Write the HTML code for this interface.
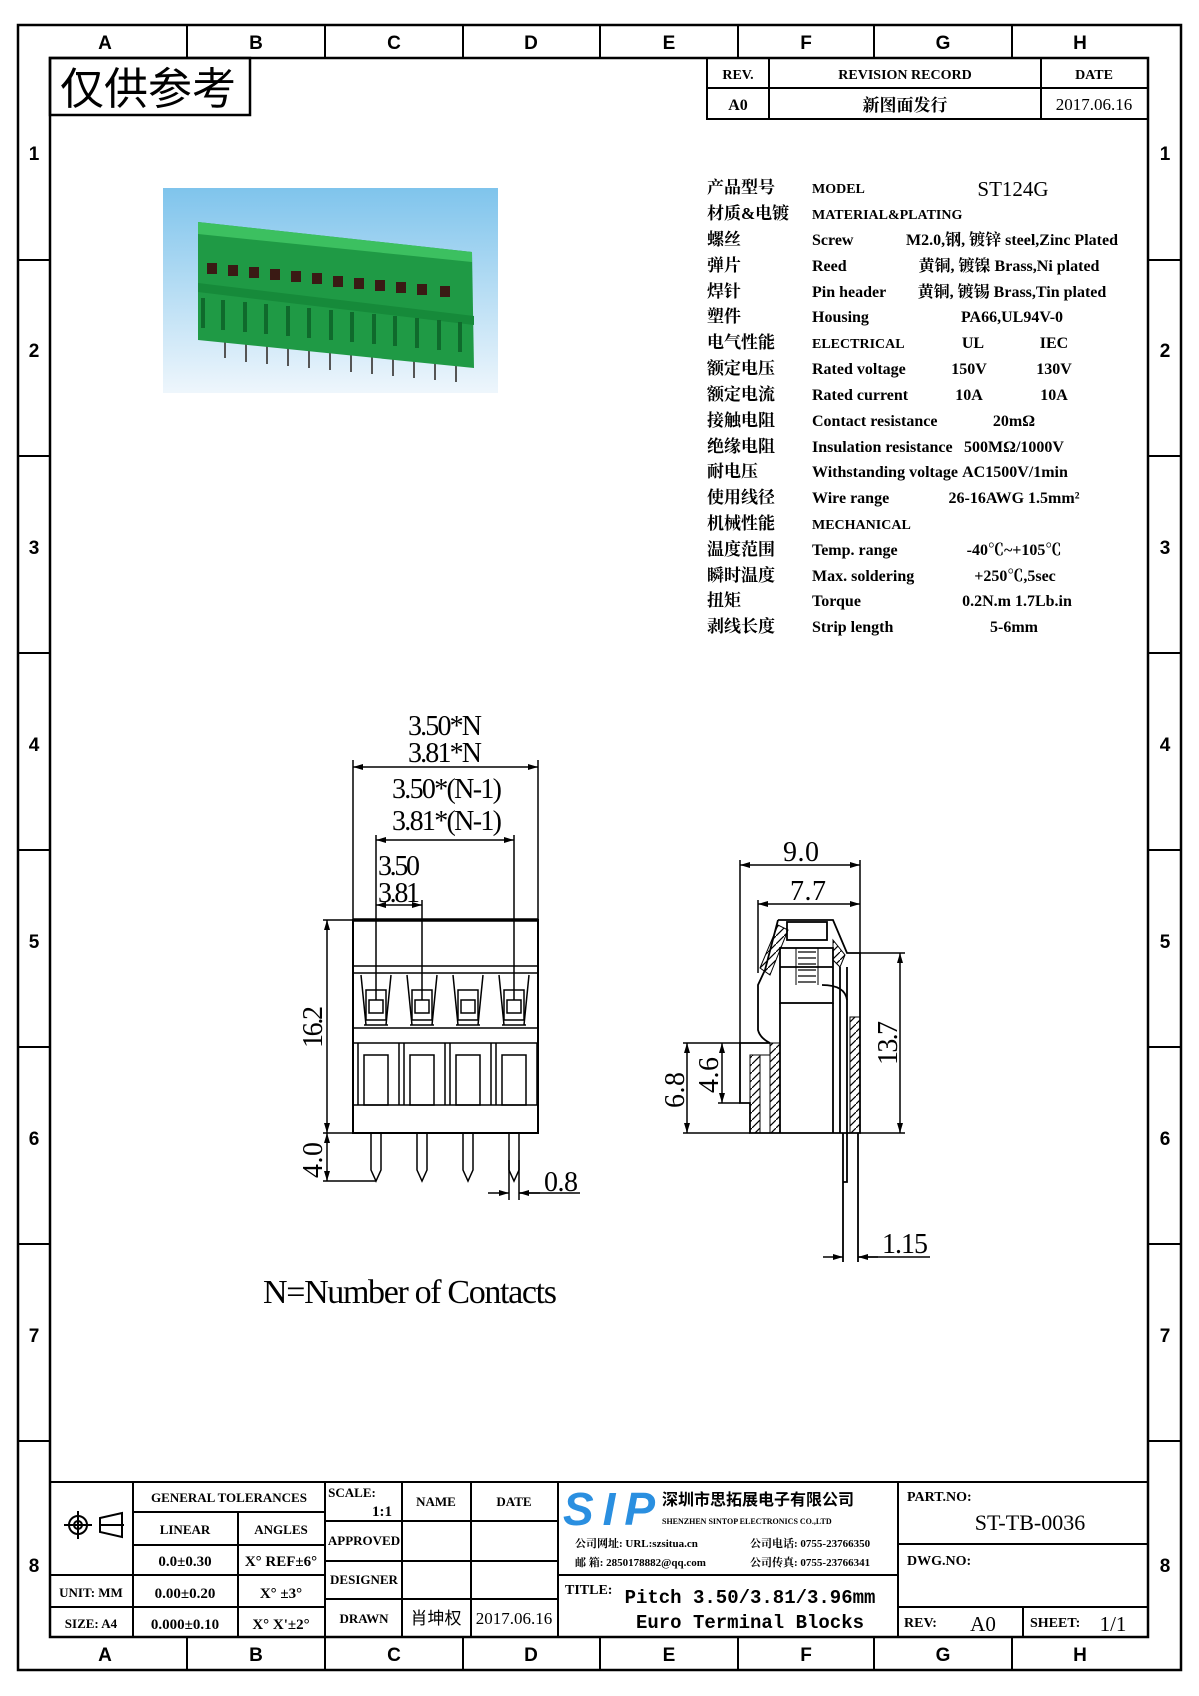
<!DOCTYPE html>
<html><head><meta charset="utf-8"><style>
html,body{margin:0;padding:0;background:#fff}
svg{display:block}
text{font-family:"Liberation Serif","Noto Serif CJK SC","Noto Sans CJK SC",serif;fill:#000}
.s{font-family:"Liberation Sans","Noto Sans CJK SC",sans-serif;font-weight:bold}
.m{font-family:"Liberation Mono","Noto Sans CJK SC",monospace;font-weight:bold}
</style></head><body>
<svg width="1199" height="1696" viewBox="0 0 1199 1696" xmlns="http://www.w3.org/2000/svg">
<defs>
<marker id="a" viewBox="0 0 10 6" refX="10" refY="3" markerWidth="10" markerHeight="6" orient="auto-start-reverse" markerUnits="userSpaceOnUse"><path d="M0 0L10 3L0 6z" fill="#000"/></marker>
<pattern id="h" width="8" height="8" patternUnits="userSpaceOnUse"><path d="M0 8L8 0" stroke="#000" stroke-width="1.2"/></pattern>
<linearGradient id="bg" x1="0" y1="0" x2="0" y2="1"><stop offset="0" stop-color="#7fc4ec"/><stop offset="1" stop-color="#eef6fc"/></linearGradient>
</defs>
<g fill="none" stroke="#000" stroke-width="2.5">
<rect x="18" y="25" width="1163" height="1645"/>
<rect x="50" y="58" width="1098" height="1579"/>
</g>
<g stroke="#000" stroke-width="2">
<path d="M187 25V58M325 25V58M463 25V58M600 25V58M738 25V58M874 25V58M1012 25V58"/>
<path d="M187 1637V1670M325 1637V1670M463 1637V1670M600 1637V1670M738 1637V1670M874 1637V1670M1012 1637V1670"/>
<path d="M18 260H50M18 456H50M18 653H50M18 850H50M18 1047H50M18 1244H50M18 1441H50"/>
<path d="M1148 260H1181M1148 456H1181M1148 653H1181M1148 850H1181M1148 1047H1181M1148 1244H1181M1148 1441H1181"/>
</g>
<g class="s" font-size="19" text-anchor="middle">
<text class="s" x="105" y="49">A</text><text class="s" x="256" y="49">B</text><text class="s" x="394" y="49">C</text><text class="s" x="531" y="49">D</text><text class="s" x="669" y="49">E</text><text class="s" x="806" y="49">F</text><text class="s" x="943" y="49">G</text><text class="s" x="1080" y="49">H</text>
<text class="s" x="105" y="1661">A</text><text class="s" x="256" y="1661">B</text><text class="s" x="394" y="1661">C</text><text class="s" x="531" y="1661">D</text><text class="s" x="669" y="1661">E</text><text class="s" x="806" y="1661">F</text><text class="s" x="943" y="1661">G</text><text class="s" x="1080" y="1661">H</text>
<text class="s" x="34" y="160">1</text><text class="s" x="34" y="357">2</text><text class="s" x="34" y="554">3</text><text class="s" x="34" y="751">4</text><text class="s" x="34" y="948">5</text><text class="s" x="34" y="1145">6</text><text class="s" x="34" y="1342">7</text><text class="s" x="34" y="1572">8</text>
<text class="s" x="1165" y="160">1</text><text class="s" x="1165" y="357">2</text><text class="s" x="1165" y="554">3</text><text class="s" x="1165" y="751">4</text><text class="s" x="1165" y="948">5</text><text class="s" x="1165" y="1145">6</text><text class="s" x="1165" y="1342">7</text><text class="s" x="1165" y="1572">8</text>
</g>
<rect x="50" y="58" width="200" height="57" fill="none" stroke="#000" stroke-width="2.5"/>
<text x="60" y="104" font-size="44" style="font-family:'Noto Sans CJK SC',sans-serif">仅供参考</text>
<g fill="none" stroke="#000" stroke-width="2"><rect x="707" y="58" width="441" height="61"/><path d="M707 88H1148M769 58V119M1041 58V119"/></g>
<g font-size="14" text-anchor="middle" font-weight="bold">
<text x="738" y="79">REV.</text><text x="905" y="79">REVISION RECORD</text><text x="1094" y="79">DATE</text>
<text x="738" y="110" font-size="16">A0</text><text x="905" y="111" font-size="17">新图面发行</text><text x="1094" y="110" font-size="17" font-weight="normal">2017.06.16</text>
</g>
<g font-size="16" font-weight="bold">
<g style="font-family:'Noto Sans CJK SC',sans-serif" font-size="17">
<text x="707" y="193">产品型号</text><text x="707" y="219">材质&amp;电镀</text><text x="707" y="245">螺丝</text><text x="707" y="271">弹片</text><text x="707" y="297">焊针</text><text x="707" y="322">塑件</text><text x="707" y="348">电气性能</text><text x="707" y="374">额定电压</text><text x="707" y="400">额定电流</text><text x="707" y="426">接触电阻</text><text x="707" y="452">绝缘电阻</text><text x="707" y="477">耐电压</text><text x="707" y="503">使用线径</text><text x="707" y="529">机械性能</text><text x="707" y="555">温度范围</text><text x="707" y="581">瞬时温度</text><text x="707" y="606">扭矩</text><text x="707" y="632">剥线长度</text>
</g>
<g font-size="16">
<text x="812" y="193" font-size="14">MODEL</text><text x="812" y="219" font-size="14">MATERIAL&amp;PLATING</text><text x="812" y="245">Screw</text><text x="812" y="271">Reed</text><text x="812" y="297">Pin header</text><text x="812" y="322">Housing</text><text x="812" y="348" font-size="14">ELECTRICAL</text><text x="812" y="374">Rated voltage</text><text x="812" y="400">Rated current</text><text x="812" y="426">Contact resistance</text><text x="812" y="452">Insulation resistance</text><text x="812" y="477">Withstanding voltage</text><text x="812" y="503">Wire range</text><text x="812" y="529" font-size="14">MECHANICAL</text><text x="812" y="555">Temp. range</text><text x="812" y="581">Max. soldering</text><text x="812" y="606">Torque</text><text x="812" y="632">Strip length</text>
</g>
<g text-anchor="middle" font-size="16">
<text x="1013" y="196" font-size="21" font-weight="normal">ST124G</text>
<text x="1012" y="245">M2.0,钢, 镀锌 steel,Zinc Plated</text>
<text x="1009" y="271">黄铜, 镀镍 Brass,Ni plated</text>
<text x="1012" y="297">黄铜, 镀锡 Brass,Tin plated</text>
<text x="1012" y="322">PA66,UL94V-0</text>
<text x="973" y="348">UL</text><text x="1054" y="348">IEC</text>
<text x="969" y="374">150V</text><text x="1054" y="374">130V</text>
<text x="969" y="400">10A</text><text x="1054" y="400">10A</text>
<text x="1014" y="426">20mΩ</text><text x="1014" y="452">500MΩ/1000V</text><text x="1015" y="477">AC1500V/1min</text><text x="1014" y="503">26-16AWG 1.5mm²</text>
<text x="1014" y="555">-40℃~+105℃</text><text x="1015" y="581">+250℃,5sec</text><text x="1017" y="606">0.2N.m  1.7Lb.in</text><text x="1014" y="632">5-6mm</text>
</g>
</g>
<rect x="163" y="188" width="335" height="205" fill="url(#bg)"/>
<g stroke="#555" stroke-width="2"><path d="M225 330v28M246 332v30M267 334v30M288 336v30M309 338v30M330 340v30M351 342v30M372 344v30M393 346v30M414 348v30M435 350v30M456 352v30"/></g>
<path d="M198 222L472 252L474 368L198 340Z" fill="#1f9a45"/>
<path d="M198 222L472 252L472 262L198 234Z" fill="#3cc060"/>
<path d="M198 283L474 316L474 325L198 292Z" fill="#168a3a"/>
<g fill="#3a1a14">
<rect x="207" y="263" width="10" height="11"/><rect x="228" y="265" width="10" height="11"/><rect x="249" y="267" width="10" height="11"/><rect x="270" y="269" width="10" height="11"/><rect x="291" y="271" width="10" height="11"/><rect x="312" y="273" width="10" height="11"/><rect x="333" y="276" width="10" height="11"/><rect x="354" y="278" width="10" height="11"/><rect x="375" y="280" width="10" height="11"/><rect x="396" y="282" width="10" height="11"/><rect x="417" y="284" width="10" height="11"/><rect x="440" y="286" width="10" height="11"/>
</g>
<g fill="#0f6a2c"><rect x="201" y="298" width="4" height="30"/><rect x="221" y="300" width="4" height="30"/><rect x="243" y="302" width="4" height="30"/><rect x="264" y="304" width="4" height="30"/><rect x="286" y="306" width="4" height="30"/><rect x="307" y="308" width="4" height="30"/><rect x="329" y="310" width="4" height="30"/><rect x="350" y="312" width="4" height="30"/><rect x="372" y="314" width="4" height="30"/><rect x="393" y="316" width="4" height="30"/><rect x="415" y="318" width="4" height="30"/><rect x="437" y="320" width="4" height="30"/><rect x="458" y="322" width="4" height="30"/></g>
<g fill="none" stroke="#000" stroke-width="2">
<rect x="353" y="920" width="185" height="213"/>
<path d="M353 966H538M353 973H538M353 1028H538M353 1043H538M353 1105H538" stroke-width="1.5"/>
<path d="M353 920H538" stroke-width="3.5"/>
</g>
<g fill="none" stroke="#000" stroke-width="1.5">
<g id="sw"><path d="M361 975L366 1025M391 975L386 1025"/><rect x="366" y="990" width="20" height="30"/><rect x="369" y="1000" width="14" height="13"/><path d="M364 1025H388"/></g>
<use href="#sw" x="46"/><use href="#sw" x="92"/><use href="#sw" x="138"/>
<g id="lw"><rect x="364" y="1055" width="24" height="50"/><path d="M358 1043V1105M399 1043V1105"/></g>
<use href="#lw" x="46"/><use href="#lw" x="92"/><use href="#lw" x="138"/>
<g id="pn"><path d="M371 1133V1170L376 1181L381 1170V1133"/></g>
<use href="#pn" x="46"/><use href="#pn" x="92"/><use href="#pn" x="138"/>
</g>
<g stroke="#000" stroke-width="1.5" fill="none">
<path d="M353 920V760M538 920V760"/>
<path d="M353 767H538" marker-start="url(#a)" marker-end="url(#a)"/>
<path d="M376 1000V835M514 1000V835"/>
<path d="M376 840H514" marker-start="url(#a)" marker-end="url(#a)"/>
<path d="M422 1000V900"/>
<path d="M376 905H422" marker-start="url(#a)" marker-end="url(#a)"/>
<path d="M323 920H353M323 1133H353M323 1181H376"/>
<path d="M327 920V1133" marker-start="url(#a)" marker-end="url(#a)"/>
<path d="M327 1133V1181" marker-start="url(#a)" marker-end="url(#a)"/>
<path d="M509 1160V1200M519 1160V1200"/>
<path d="M488 1193H509" marker-end="url(#a)"/><path d="M540 1193H519" marker-end="url(#a)"/><path d="M519 1193H580"/>
</g>
<g font-size="28" text-anchor="middle" style="font-family:'Liberation Serif',serif">
<text x="445" y="735" textLength="74">3.50*N</text>
<text x="445" y="762" textLength="74">3.81*N</text>
<text x="447" y="798" textLength="110">3.50*(N-1)</text>
<text x="447" y="830" textLength="110">3.81*(N-1)</text>
<text x="378" y="875" text-anchor="start" textLength="42">3.50</text>
<text x="378" y="902" text-anchor="start" textLength="42">3.81</text>
<text transform="translate(322,1027) rotate(-90)" textLength="42">16.2</text>
<text transform="translate(322,1160) rotate(-90)" textLength="36">4.0</text>
<text x="561" y="1191" textLength="34">0.8</text>
<text x="410" y="1303" font-size="34" textLength="294">N=Number of Contacts</text>
</g>
<g fill="none" stroke="#000" stroke-width="1.8">
<path d="M778 920H833L847 953H860V1133H750V1103H740V1043H770Q760 1038 758 1030V985L765 970L778 920"/>
<rect x="780" y="948" width="53" height="55"/>
<rect x="787" y="922" width="40" height="18"/>
<path d="M780 967H833M780 1003V1133M833 1003V1133"/>
<path d="M796 948V985M818 948V985" stroke-width="1"/>
<path d="M798 952h18M798 958h18M798 964h18M798 970h18M798 976h18M798 982h18" stroke-width="1.2"/>
<path d="M840 967V1133M847 967V1133"/>
<path d="M822 985Q845 985 847 1000"/>
<path d="M843 1133V1182H847V1133M843 1182V1262M858 1133V1262"/>
</g>
<g stroke="#000" stroke-width="1">
<rect x="750" y="1055" width="10" height="78" fill="url(#h)"/>
<rect x="770" y="1043" width="10" height="90" fill="url(#h)"/>
<rect x="850" y="1017" width="10" height="116" fill="url(#h)"/>
<path d="M760 968L778 925L788 930L770 975Z" fill="url(#h)"/>
<path d="M833 940L845 955L840 967L833 960Z" fill="url(#h)"/>
<rect x="760" y="1055" width="10" height="78" fill="none"/>
</g>
<g stroke="#000" stroke-width="1.5" fill="none">
<path d="M740 1043V860M860 953V860M758 973V900"/>
<path d="M740 865H860" marker-start="url(#a)" marker-end="url(#a)"/>
<path d="M758 904H860" marker-start="url(#a)" marker-end="url(#a)"/>
<path d="M860 953H905M860 1133H905"/>
<path d="M900 953V1133" marker-start="url(#a)" marker-end="url(#a)"/>
<path d="M683 1043H740M683 1133H750M718 1103H740"/>
<path d="M687 1043V1133" marker-start="url(#a)" marker-end="url(#a)"/>
<path d="M722 1043V1103" marker-start="url(#a)" marker-end="url(#a)"/>
<path d="M823 1257H843" marker-end="url(#a)"/><path d="M878 1257H858" marker-end="url(#a)"/><path d="M858 1257H930"/>
</g>
<g font-size="28" text-anchor="middle" style="font-family:'Liberation Serif',serif">
<text x="801" y="861" textLength="36">9.0</text>
<text x="808" y="900" textLength="36">7.7</text>
<text transform="translate(897,1043) rotate(-90)" textLength="44">13.7</text>
<text transform="translate(684,1090) rotate(-90)" textLength="36">6.8</text>
<text transform="translate(718,1075) rotate(-90)" textLength="36">4.6</text>
<text x="905" y="1253" textLength="46">1.15</text>
</g>
<g fill="none" stroke="#000" stroke-width="2">
<path d="M50 1482H1148"/>
<path d="M133 1482V1637M238 1512V1637M325 1482V1637M402 1482V1637M471 1482V1637M558 1482V1637M898 1482V1637"/>
<path d="M133 1512H325M133 1545H325M50 1575H325M50 1607H325"/>
<path d="M325 1521H558M325 1561H558M325 1599H558"/>
<path d="M558 1575H898"/>
<path d="M898 1544H1148M898 1607H1148M1023 1607V1637"/>
</g>
<g stroke="#000" stroke-width="2" fill="none">
<circle cx="78" cy="1525" r="9"/><circle cx="78" cy="1525" r="4"/><path d="M64 1525H92M78 1511V1539"/>
<path d="M100 1525H124M100 1518L122 1513V1537L100 1532Z"/>
</g>
<g font-size="13" font-weight="bold" text-anchor="middle">
<text x="229" y="1502">GENERAL TOLERANCES</text>
<text x="185" y="1534">LINEAR</text><text x="281" y="1534">ANGLES</text>
<text x="185" y="1566" font-size="15">0.0±0.30</text><text x="281" y="1566" font-size="15">X° REF±6°</text>
<text x="91" y="1597">UNIT: MM</text><text x="185" y="1598" font-size="15">0.00±0.20</text><text x="281" y="1598" font-size="15">X° ±3°</text>
<text x="91" y="1628">SIZE: A4</text><text x="185" y="1629" font-size="15">0.000±0.10</text><text x="281" y="1629" font-size="15">X° X'±2°</text>
<text x="352" y="1497">SCALE:</text><text x="382" y="1516" font-size="15">1:1</text>
<text x="436" y="1506">NAME</text><text x="514" y="1506">DATE</text>
<text x="364" y="1545">APPROVED</text><text x="364" y="1584">DESIGNER</text><text x="364" y="1623">DRAWN</text>
<text x="436" y="1624" font-size="17" font-weight="normal" style="font-family:'Noto Sans CJK SC',sans-serif">肖坤权</text>
<text x="514" y="1624" font-size="17" font-weight="normal">2017.06.16</text>
</g>
<text x="563" y="1525" font-size="46" font-style="italic" font-weight="bold" style="font-family:'Liberation Sans',sans-serif;fill:#2a8fe0" textLength="92">SIP</text>
<g font-weight="bold">
<text x="662" y="1505" font-size="16" style="font-family:'Noto Sans CJK SC',sans-serif">深圳市思拓展电子有限公司</text>
<text x="662" y="1524" font-size="8">SHENZHEN SINTOP ELECTRONICS CO.,LTD</text>
<text x="575" y="1547" font-size="11">公司网址: URL:szsitua.cn</text>
<text x="575" y="1566" font-size="11">邮    箱: 2850178882@qq.com</text>
<text x="750" y="1547" font-size="11">公司电话: 0755-23766350</text>
<text x="750" y="1566" font-size="11">公司传真: 0755-23766341</text>
<text x="565" y="1594" font-size="14">TITLE:</text>
</g>
<g class="m" font-size="19" text-anchor="middle">
<text class="m" x="750" y="1603">Pitch 3.50/3.81/3.96mm</text>
<text class="m" x="750" y="1628">Euro Terminal Blocks</text>
</g>
<g font-size="14" font-weight="bold">
<text x="907" y="1501">PART.NO:</text>
<text x="907" y="1565">DWG.NO:</text>
<text x="904" y="1627">REV:</text>
<text x="1030" y="1627">SHEET:</text>
</g>
<text x="1030" y="1530" font-size="22" text-anchor="middle">ST-TB-0036</text>
<text x="983" y="1631" font-size="21" text-anchor="middle">A0</text>
<text x="1113" y="1631" font-size="21" text-anchor="middle">1/1</text>
</svg>
</body></html>
